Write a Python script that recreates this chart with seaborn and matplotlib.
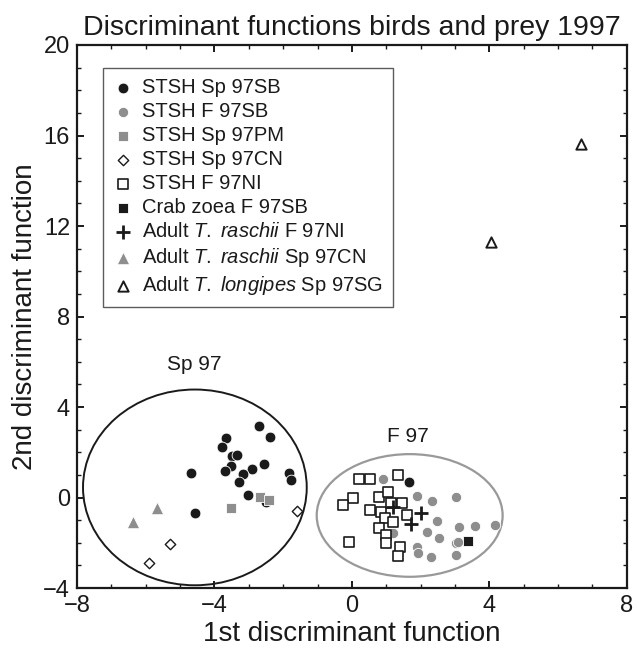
import numpy as np
import pandas as pd
import matplotlib
matplotlib.use("Agg")
import matplotlib.pyplot as plt
from matplotlib.patches import Ellipse
from matplotlib.ticker import MultipleLocator
import seaborn as sns

# discriminant scores
sp_sb_x = [-2.70, -2.37, -3.65, -3.77, -3.50, -3.34, -3.53, -3.69, -2.92, -2.56,
           -3.16, -3.28, -4.69, -1.84, -1.77, -3.02, -4.57, -2.51]
sp_sb_y = [3.16, 2.66, 2.63, 2.22, 1.83, 1.86, 1.39, 1.19, 1.27, 1.47,
           1.04, 0.69, 1.10, 1.07, 0.77, 0.10, -0.70, -0.21]

f_sb_x = [0.91, 1.88, 2.32, 3.03, 2.48, 2.17, 2.54, 3.12, 3.58, 1.20,
          1.88, 1.93, 2.30, 3.04, 3.04, 4.17, 3.09]
f_sb_y = [0.82, 0.07, -0.14, 0.04, -1.02, -1.51, -1.80, -1.29, -1.26, -1.58,
          -2.17, -2.47, -2.62, -2.54, -2.02, -1.22, -1.95]

sp_pm_x = [-2.68, -2.41, -3.53]
sp_pm_y = [0.04, -0.11, -0.48]

sp_cn_x = [-1.59, -5.29, -5.90]
sp_cn_y = [-0.58, -2.07, -2.91]

f_ni_x = [0.21, 0.52, 1.33, 0.04, -0.25, 0.79, 1.06, 0.52, 0.86, 1.45,
          0.96, 1.20, 1.61, 0.79, 0.99, 0.99, -0.08, 1.40, 1.35, 1.15]
f_ni_y = [0.80, 0.80, 0.99, -0.04, -0.33, 0.04, 0.26, -0.55, -0.63, -0.26,
          -0.92, -1.07, -0.77, -1.36, -1.66, -2.02, -1.95, -2.17, -2.59, -0.26]

f_sb_black_x = [1.67]
f_sb_black_y = [0.70]

crab_x = [3.38]
crab_y = [-1.92]

rasch_f_x = [1.20, 2.02, 1.73]
rasch_f_y = [-0.40, -0.70, -1.17]

rasch_sp_x = [-5.68, -6.36]
rasch_sp_y = [-0.48, -1.07]

longi_x = [6.68, 4.06]
longi_y = [15.61, 11.31]

labels = ["STSH Sp 97SB", "STSH F 97SB", "STSH Sp 97PM", "STSH Sp 97CN",
          "STSH F 97NI", "Crab zoea F 97SB",
          r"Adult $\mathit{T.\ raschii}$ F 97NI",
          r"Adult $\mathit{T.\ raschii}$ Sp 97CN",
          r"Adult $\mathit{T.\ longipes}$ Sp 97SG"]

sns.set_theme(style="white")
plt.rcParams["font.family"] = ["Liberation Sans", "DejaVu Sans"]
plt.rcParams["mathtext.fontset"] = "custom"
plt.rcParams["mathtext.rm"] = "Liberation Sans"
plt.rcParams["mathtext.it"] = "Liberation Sans:italic"

ink = "#1a1a1a"
gray = "#8e8e8e"

fig = plt.figure(figsize=(6.39, 6.52), dpi=100)
ax = fig.add_axes([0.1205, 0.098, 0.8605, 0.833])

# ellipses first so points sit on top
ax.add_patch(Ellipse((-4.57, 0.45), 6.51, 8.65, fill=False, ec=ink, lw=1.4))
ax.add_patch(Ellipse((1.68, -0.79), 5.41, 5.42, fill=False, ec="#999999", lw=1.6))

sns.scatterplot(x=sp_sb_x, y=sp_sb_y, ax=ax, marker="o", color=ink,
                edgecolor="white", linewidth=0.6, s=60, label=labels[0])
sns.scatterplot(x=f_sb_x, y=f_sb_y, ax=ax, marker="o", color=gray,
                edgecolor="white", linewidth=0.6, s=55, label=labels[1])
sns.scatterplot(x=sp_pm_x, y=sp_pm_y, ax=ax, marker="s", color=gray,
                edgecolor="white", linewidth=0.6, s=50, label=labels[2])
sns.scatterplot(x=sp_cn_x, y=sp_cn_y, ax=ax, marker="D", color="white",
                edgecolor=ink, linewidth=1.0, s=28, label=labels[3])
sns.scatterplot(x=f_ni_x, y=f_ni_y, ax=ax, marker="s", color="white",
                edgecolor=ink, linewidth=1.2, s=55, label=labels[4])
sns.scatterplot(x=f_sb_black_x, y=f_sb_black_y, ax=ax, marker="o", color=ink,
                edgecolor="white", linewidth=0.6, s=60)
sns.scatterplot(x=crab_x, y=crab_y, ax=ax, marker="s", color=ink,
                edgecolor="white", linewidth=0.6, s=50, label=labels[5])
ax.scatter(rasch_f_x, rasch_f_y, marker="+", color=ink, s=110,
           linewidths=2.0, label=labels[6])
sns.scatterplot(x=rasch_sp_x, y=rasch_sp_y, ax=ax, marker="^", color=gray,
                edgecolor="white", linewidth=0.6, s=80, label=labels[7])
sns.scatterplot(x=longi_x, y=longi_y, ax=ax, marker="^", color="white",
                edgecolor=ink, linewidth=1.4, s=55, label=labels[8])

ax.text(-4.6, 5.9, "Sp 97", fontsize=15, ha="center", va="center", color=ink)
ax.text(1.62, 2.7, "F 97", fontsize=15, ha="center", va="center", color=ink)

ax.set_xlim(-8, 8)
ax.set_ylim(-4, 20)
ax.xaxis.set_major_locator(MultipleLocator(4))
ax.xaxis.set_minor_locator(MultipleLocator(1))
ax.yaxis.set_major_locator(MultipleLocator(4))
ax.yaxis.set_minor_locator(MultipleLocator(1))
ax.tick_params(which="both", direction="in", top=True, right=True,
               bottom=True, left=True, color=ink, labelsize=17, labelcolor=ink)
ax.tick_params(which="major", length=5, width=1.4, pad=5)
ax.tick_params(which="minor", length=3, width=1.0)
for sp in ax.spines.values():
    sp.set_color(ink)
    sp.set_linewidth(1.6)

ax.set_xlabel("1st discriminant function", fontsize=20, color=ink, labelpad=3)
ax.set_ylabel("2nd discriminant function", fontsize=20, color=ink, labelpad=4)
ax.set_title("Discriminant functions birds and prey 1997", fontsize=20.5,
             color=ink, pad=7)

# legend order as in the figure
handles, labs = ax.get_legend_handles_labels()
order = [labs.index(l) for l in labels]
leg = ax.legend([handles[i] for i in order], [labs[i] for i in order],
                loc="upper left", bbox_to_anchor=(0.047, 0.958), fontsize=14.5,
                frameon=True, fancybox=False, edgecolor="#333333",
                labelspacing=0.25, handletextpad=0.45, handlelength=1.0,
                borderpad=0.5, borderaxespad=0)
leg.get_frame().set_linewidth(1.0)
for t in leg.get_texts():
    t.set_color(ink)

fig.savefig("out.png", dpi=100)
